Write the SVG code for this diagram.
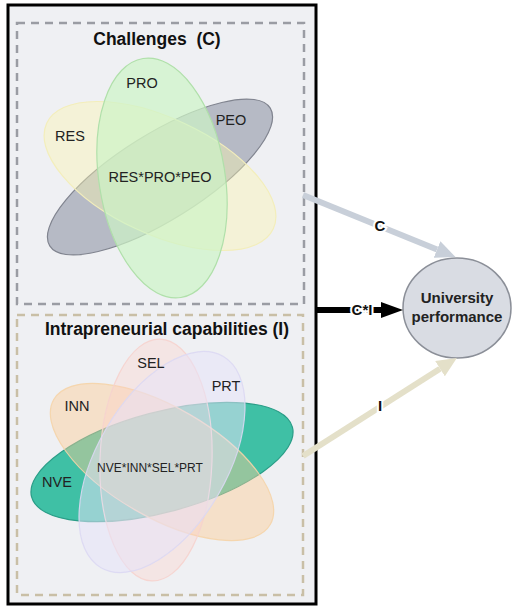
<svg xmlns="http://www.w3.org/2000/svg" width="520" height="612" viewBox="0 0 520 612">
<style>
.t{font-family:"Liberation Sans",Arial,sans-serif;fill:#222;}
.lbl{font-size:14.5px;text-anchor:middle;}
.ttl{font-size:17.5px;font-weight:bold;text-anchor:middle;fill:#111;}
.al{font-family:"Liberation Sans",Arial,sans-serif;font-size:15px;font-weight:bold;text-anchor:middle;fill:#111;stroke:#fff;stroke-width:4;paint-order:stroke;}
</style>
<defs>
<marker id="hC" markerUnits="userSpaceOnUse" viewBox="0 0 20 18" markerWidth="20" markerHeight="18" refX="0" refY="9" orient="auto"><path d="M0,0 L20,9 L0,18 Z" fill="#c8cfd9"/></marker>
<marker id="hI" markerUnits="userSpaceOnUse" viewBox="0 0 20 18" markerWidth="20" markerHeight="18" refX="0" refY="9" orient="auto"><path d="M0,0 L20,9 L0,18 Z" fill="#e4e0c9"/></marker>
<marker id="hK" markerUnits="userSpaceOnUse" viewBox="0 0 22 16" markerWidth="22" markerHeight="16" refX="0" refY="8" orient="auto"><path d="M0,0 L22,8 L0,16 Z" fill="#000"/></marker>
</defs>
<rect width="520" height="612" fill="#fff"/>
<g id="outer">
<rect x="8" y="5" width="308" height="599" fill="#eff0f3" stroke="#000" stroke-width="3"/>
</g>
<g id="challenges">
<rect x="17" y="23" width="287" height="281" fill="none" stroke="#9a9ca3" stroke-width="2.5" stroke-dasharray="8,6"/>
<text class="t ttl" x="157" y="45" xml:space="preserve">Challenges  (C)</text>
<ellipse cx="160" cy="177" rx="130" ry="43" transform="rotate(-32 160 177)" fill="#b6bac5" stroke="#80848f" stroke-width="1.2"/>
<ellipse cx="160" cy="176" rx="125" ry="58" transform="rotate(25 160 176)" fill="#fbf5b0" fill-opacity="0.42" stroke="#f3eebb" stroke-width="1.2"/>
<ellipse cx="162" cy="178" rx="63" ry="121" transform="rotate(-9 162 178)" fill="#cdf3c6" fill-opacity="0.7" stroke="#b0e0aa" stroke-width="1.2"/>
<text class="t lbl" x="142" y="88">PRO</text>
<text class="t lbl" x="70" y="141">RES</text>
<text class="t lbl" x="231" y="125">PEO</text>
<text class="t lbl" x="160" y="182">RES*PRO*PEO</text>
</g>
<g id="capabilities">
<rect x="17" y="315" width="286" height="280" fill="none" stroke="#c9bfa6" stroke-width="2.5" stroke-dasharray="8,6"/>
<text class="t ttl" x="167" y="335">Intrapreneurial capabilities (I)</text>
<ellipse cx="162" cy="462" rx="135" ry="50" transform="rotate(-15 162 462)" fill="#3fc0a5" stroke="#2a9d87" stroke-width="1.2"/>
<ellipse cx="162" cy="462" rx="125" ry="55" transform="rotate(30 162 462)" fill="#fccd96" fill-opacity="0.45" stroke="#f5d4a8" stroke-opacity="0.9" stroke-width="1.2"/>
<ellipse cx="156" cy="460" rx="56" ry="121" transform="rotate(2 156 460)" fill="#ffcdc4" fill-opacity="0.33" stroke="#f6d3ce" stroke-opacity="0.9" stroke-width="1.2"/>
<ellipse cx="162" cy="462" rx="65" ry="122" transform="rotate(30 162 462)" fill="#e6e3fa" fill-opacity="0.52" stroke="#dcd8f3" stroke-opacity="0.9" stroke-width="1.2"/>
<text class="t lbl" x="151" y="368">SEL</text>
<text class="t lbl" x="226" y="391">PRT</text>
<text class="t lbl" x="77" y="411">INN</text>
<text class="t lbl" x="57" y="487">NVE</text>
<text class="t" x="150" y="472" font-size="12" text-anchor="middle">NVE*INN*SEL*PRT</text>
</g>
<g id="performance">
<ellipse cx="457" cy="308" rx="54" ry="50" fill="#d9dce3" stroke="#8b8f98" stroke-width="1.5"/>
<text class="t" x="457" y="303" font-size="15" font-weight="bold" text-anchor="middle" fill="#333">University</text>
<text class="t" x="457" y="322" font-size="15" font-weight="bold" text-anchor="middle" fill="#333">performance</text>
</g>
<g id="connectors">
<line x1="303" y1="195" x2="437" y2="249.5" stroke="#c8cfd9" stroke-width="6" marker-end="url(#hC)"/>
<line x1="303" y1="456" x2="440" y2="368.7" stroke="#e4e0c9" stroke-width="6" marker-end="url(#hI)"/>
<line x1="316" y1="310" x2="381" y2="310" stroke="#000" stroke-width="6" marker-end="url(#hK)"/>
<text class="al" x="380" y="231">C</text>
<text class="al" x="380" y="411">I</text>
<text class="al" x="362" y="315">C*I</text>
</g>
</svg>
